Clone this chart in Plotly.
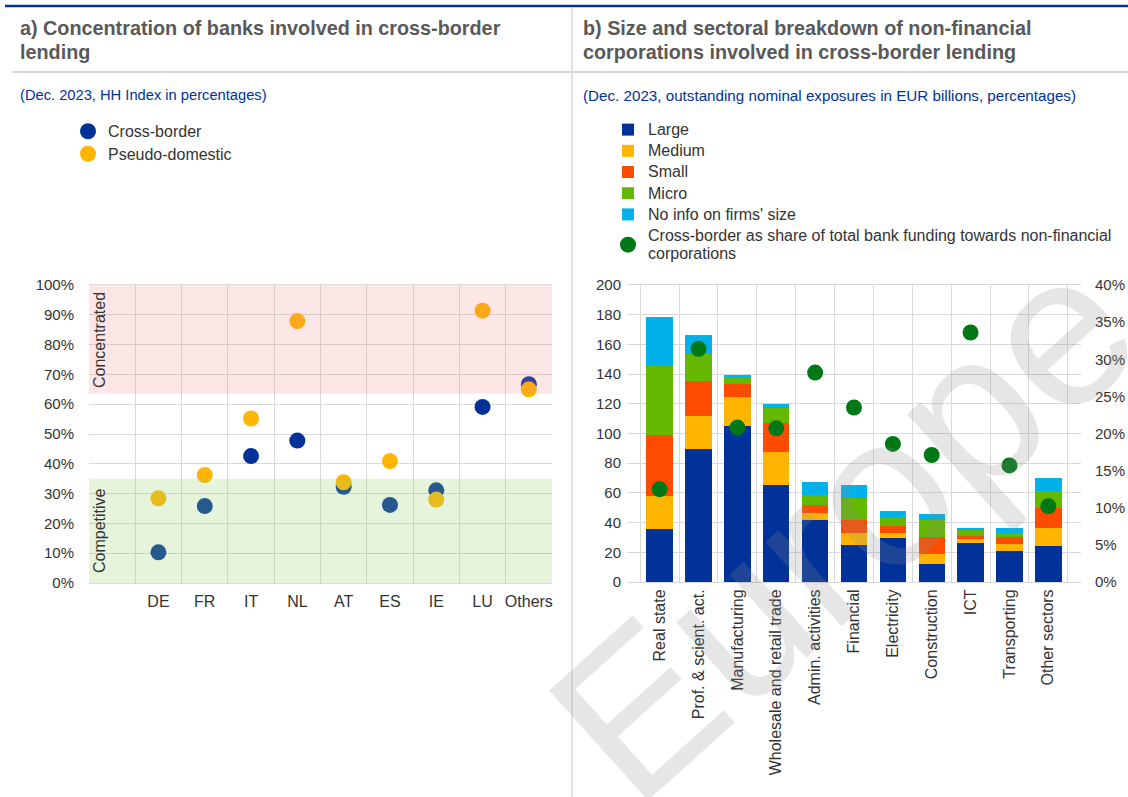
import plotly.graph_objects as go

W, H = 1128, 797

# panel a data
countries = ["DE", "FR", "IT", "NL", "AT", "ES", "IE", "LU", "Others"]
cross_border = [10.3, 25.8, 42.6, 47.8, 32.3, 26.2, 31.1, 59.1, 66.7]
pseudo_domestic = [28.4, 36.2, 55.2, 87.9, 33.8, 40.9, 28.0, 91.4, 65.0]

# panel b data
sectors = ["Real state", "Prof. &amp; scient. act.", "Manufacturing", "Wholesale and retail trade",
           "Admin. activities", "Financial", "Electricity", "Construction", "ICT",
           "Transporting", "Other sectors"]
large = [35.5, 89.9, 104.9, 65.2, 41.6, 24.7, 29.7, 12.4, 26.1, 20.9, 24.3]
medium = [22.5, 22.0, 19.8, 22.4, 5.1, 8.1, 3.1, 6.7, 3.1, 4.9, 12.1]
small = [40.9, 23.4, 8.8, 19.8, 5.4, 9.0, 4.7, 11.2, 2.0, 4.5, 13.3]
micro = [46.7, 18.0, 4.3, 10.1, 6.8, 14.8, 5.9, 11.5, 3.6, 2.5, 11.9]
no_info = [32.6, 13.0, 1.5, 2.3, 8.7, 8.6, 4.5, 4.3, 1.6, 3.6, 8.7]
cb_share = [12.5, 31.4, 20.8, 20.7, 28.2, 23.5, 18.6, 17.1, 33.6, 15.7, 10.2]

size_series = [("Large", large, "#003299"), ("Medium", medium, "#FFB400"),
               ("Small", small, "#FF4B00"), ("Micro", micro, "#65B800"),
               ("No info on firms' size", no_info, "#00B1EA")]

title_a = ["a) Concentration of banks involved in cross-border", "lending"]
title_b = ["b) Size and sectoral breakdown of non-financial",
           "corporations involved in cross-border lending"]
sub_a = "(Dec. 2023, HH Index in percentages)"
sub_b = "(Dec. 2023, outstanding nominal exposures in EUR billions, percentages)"

FONT = "Liberation Sans, Arial, sans-serif"
GRID = "#d9d9d9"
TXT = "#333333"


def px(x):
    return x / W


def py(y):
    return 1 - y / H


def big(s):
    # legend text a bit larger than the row spacing would give
    return "<br>".join(f"<span style='font-size:16px'>{p}</span>" for p in s.split("<br>"))


fig = go.Figure()

fig.add_trace(go.Scatter(x=countries, y=cross_border, mode="markers", name=big("Cross-border"),
                         marker=dict(color="#003299", size=16), xaxis="x", yaxis="y", legend="legend"))
fig.add_trace(go.Scatter(x=countries, y=pseudo_domestic, mode="markers", name=big("Pseudo-domestic"),
                         marker=dict(color="#FFB400", size=16), xaxis="x", yaxis="y", legend="legend"))

for i, (name, vals, col) in enumerate(size_series):
    fig.add_trace(go.Bar(x=sectors, y=vals, name=big(name), marker=dict(color=col, line=dict(width=0)),
                         xaxis="x2", yaxis="y2", legend="legend2", legendgroup=f"g{i}"))
fig.add_trace(go.Scatter(x=sectors, y=cb_share, mode="markers",
                         name=big("Cross-border as share of total bank funding towards non-financial<br>corporations"),
                         marker=dict(color="#007816", size=16), xaxis="x2", yaxis="y3",
                         legend="legend2", legendgroup="g5"))

yfont = dict(family=FONT, size=15, color=TXT)
xfont = dict(family=FONT, size=16, color=TXT)
dom_ya = [py(583), py(285)]
dom_yb = [py(582), py(285)]

fig.update_layout(
    width=W, height=H,
    margin=dict(l=0, r=0, t=0, b=0),
    paper_bgcolor="white", plot_bgcolor="white",
    font=dict(family=FONT, size=15, color=TXT),
    barmode="stack", bargap=0.32,
    xaxis=dict(domain=[px(89), px(552)], anchor="y", type="category", categoryorder="array",
               categoryarray=[" "] + countries, range=[-0.5, 9.5], tickson="boundaries",
               showgrid=True, gridcolor=GRID, showline=True, mirror=True, linecolor=GRID,
               tickangle=0, ticks="", ticklabelstandoff=4,
               tickfont=xfont, automargin=False),
    yaxis=dict(domain=dom_ya, anchor="x", range=[0, 100], dtick=10, ticksuffix="%",
               showgrid=True, gridcolor=GRID, zeroline=False, ticks="outside", ticklen=11,
               tickcolor="rgba(0,0,0,0)", tickfont=yfont, automargin=False),
    xaxis2=dict(domain=[px(627), px(1081)], anchor="y2", type="category", tickson="boundaries",
                showgrid=True, gridcolor=GRID, showline=True, mirror=True, linecolor=GRID,
                tickangle=-90, ticks="outside", ticklen=7, tickcolor="rgba(0,0,0,0)",
                tickfont=xfont, automargin=False),
    yaxis2=dict(domain=dom_yb, anchor="x2", range=[0, 200], dtick=20, showgrid=True,
                gridcolor=GRID, zeroline=False, ticks="outside", ticklen=2,
                tickcolor="rgba(0,0,0,0)", tickfont=yfont, automargin=False),
    yaxis3=dict(overlaying="y2", side="right", anchor="x2", range=[0, 40], dtick=5,
                ticksuffix="%", showgrid=False, zeroline=False, ticks="outside", ticklen=10,
                tickcolor="rgba(0,0,0,0)", tickfont=yfont, automargin=False),
    legend=dict(x=px(68), y=py(115), xanchor="left", yanchor="top", bgcolor="rgba(0,0,0,0)",
                font=dict(family=FONT, size=15, color=TXT), tracegroupgap=0),
    legend2=dict(x=px(608), y=py(114), xanchor="left", yanchor="top", bgcolor="rgba(0,0,0,0)",
                 font=dict(family=FONT, size=14, color=TXT), tracegroupgap=0,
                 traceorder="grouped"),
    showlegend=True,
)

shapes = [
    dict(type="line", xref="paper", yref="paper", x0=px(5), x1=1, y0=py(6), y1=py(6),
         line=dict(color="#003299", width=2.5)),
    dict(type="line", xref="paper", yref="paper", x0=px(12), x1=1, y0=py(72), y1=py(72),
         line=dict(color=GRID, width=2)),
    dict(type="line", xref="paper", yref="paper", x0=px(572), x1=px(572), y0=0, y1=py(8),
         line=dict(color=GRID, width=1.5)),
    dict(type="rect", xref="x domain", yref="y", x0=0, x1=1, y0=0, y1=35, layer="above",
         fillcolor="rgba(150,210,110,0.25)", line=dict(width=0)),
    dict(type="rect", xref="x domain", yref="y", x0=0, x1=1, y0=63.5, y1=100, layer="above",
         fillcolor="rgba(240,130,130,0.2)", line=dict(width=0)),
]
fig.update_layout(shapes=shapes)

ann = []
for i, line in enumerate(title_a):
    ann.append(dict(text=line, x=px(18), y=py(28 + 24 * i)))
for i, line in enumerate(title_b):
    ann.append(dict(text=line, x=px(581), y=py(28 + 24 * i)))
for a in ann:
    a.update(xref="paper", yref="paper", xanchor="left", yanchor="middle", showarrow=False,
             font=dict(family=FONT, size=19.8, color="#595959", weight="bold"))
for txt, x0, fs in [(sub_a, 18, 14.7), (sub_b, 581, 15.2)]:
    ann.append(dict(text=txt, x=px(x0), y=py(95), xref="paper", yref="paper", xanchor="left",
                    yanchor="middle", showarrow=False,
                    font=dict(family=FONT, size=fs, color="#003299")))
for txt, yc in [("Concentrated", 340), ("Competitive", 531)]:
    ann.append(dict(text=txt, x=px(99), y=py(yc), xref="paper", yref="paper", textangle=-90,
                    xanchor="center", yanchor="middle", showarrow=False,
                    font=dict(family=FONT, size=16, color=TXT)))
# watermark
ann.append(dict(text="Europe", x=px(842), y=py(525), xref="paper", yref="paper",
                xanchor="center", yanchor="middle", textangle=-42, showarrow=False,
                font=dict(family=FONT, size=215, color="rgba(140,140,140,0.22)")))
fig.update_layout(annotations=ann)

fig.write_html("out.html", config={"displayModeBar": False},
               post_script="document.body.style.margin='0';")
